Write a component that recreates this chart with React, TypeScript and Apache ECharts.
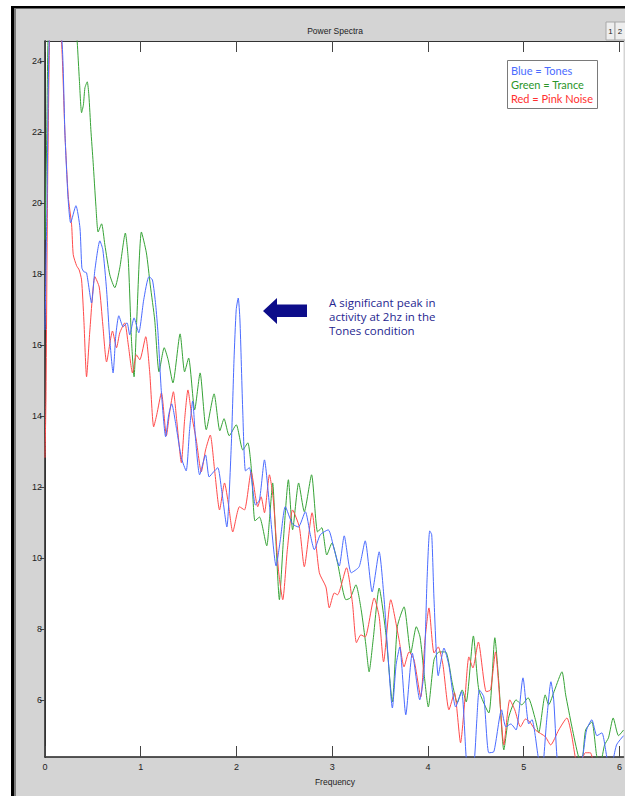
import React, { useEffect, useRef } from "react";
import * as echarts from "echarts";

const xTicks = [0, 1, 2, 3, 4, 5, 6];
const yTicks = [6, 8, 10, 12, 14, 16, 18, 20, 22, 24];
const xMin = 0;
const xMax = 6.042;
const yMin = 4.39;
const yMax = 24.56;

const chartTitle = "Power Spectra";
const xName = "Frequency";
const legendLines = ["Blue = Tones", "Green = Trance", "Red = Pink Noise"];
const noteLines = ["A significant peak in", "activity at 2hz in the", "Tones condition"];

// [frequency, power]
const tones = [
  [0, 16.42], [0.021, 20.08], [0.047, 24.87], [0.104, 25.58], [0.177, 24.56], [0.208, 21.97], [0.24, 20.17], [0.268, 19.44],
  [0.323, 19.92], [0.365, 19.3], [0.385, 18.17], [0.406, 18.06], [0.434, 18.03], [0.486, 17.18], [0.521, 18.11], [0.573, 18.93],
  [0.604, 18.68], [0.643, 17.55], [0.677, 16.14], [0.711, 15.21], [0.74, 16.28], [0.771, 16.82], [0.816, 16.51], [0.857, 16.62],
  [0.885, 16.28], [0.93, 16.76], [0.979, 16.34], [1.031, 17.27], [1.086, 17.92], [1.122, 17.83], [1.156, 17.13], [1.18, 16.34],
  [1.216, 14.65], [1.26, 13.41], [1.292, 14.03], [1.323, 14.34], [1.375, 13.61], [1.424, 12.82], [1.474, 12.45], [1.51, 13.61],
  [1.542, 14.42], [1.573, 13.32], [1.615, 12.34], [1.677, 12.9], [1.714, 12.28], [1.76, 12.42], [1.805, 12.54], [1.844, 11.92],
  [1.899, 10.87], [1.945, 13.13], [1.974, 15.58], [1.997, 16.99], [2.018, 17.32], [2.036, 16.7], [2.066, 14.08], [2.094, 12.45],
  [2.135, 12.54], [2.198, 11.49], [2.24, 11.63], [2.292, 12.76], [2.344, 11.49], [2.414, 9.77], [2.458, 10.51], [2.51, 11.44],
  [2.583, 10.96], [2.646, 10.87], [2.719, 11.3], [2.771, 10.65], [2.813, 10.23], [2.875, 10.65], [2.958, 10.79], [3.021, 10.23],
  [3.073, 9.77], [3.125, 10.62], [3.198, 9.58], [3.281, 9.75], [3.344, 10.48], [3.417, 9.04], [3.49, 10.17], [3.542, 8.82],
  [3.578, 7.41], [3.628, 5.77], [3.667, 6.99], [3.705, 7.49], [3.768, 5.58], [3.836, 7.32], [3.914, 6.0], [3.958, 6.76],
  [3.99, 9.38], [4.018, 10.76], [4.039, 10.65], [4.063, 8.82], [4.107, 6.68], [4.167, 7.46], [4.219, 6.96], [4.289, 5.8],
  [4.351, 6.23], [4.399, 4.37], [4.427, 3.89], [4.479, 4.17], [4.51, 5.44], [4.536, 6.28], [4.583, 6.08], [4.635, 4.51],
  [4.688, 4.54], [4.768, 5.72], [4.813, 5.24], [4.865, 5.32], [4.92, 5.15], [4.992, 6.62], [5.052, 5.32], [5.086, 5.44],
  [5.151, 4.39], [5.188, 3.89], [5.24, 5.44], [5.284, 6.51], [5.313, 6.0], [5.347, 4.39], [5.385, 3.75], [5.552, 3.75],
  [5.615, 4.39], [5.656, 5.15], [5.711, 5.44], [5.764, 4.99], [5.816, 5.07], [5.868, 4.39], [5.906, 4.03], [5.969, 4.73],
  [6.042, 4.99],
];

const trance = [
  [0, 18.96], [0.016, 21.49], [0.031, 24.56], [0.052, 25.44], [0.208, 25.72], [0.3125, 25.15], [0.336, 24.54], [0.359, 23.46],
  [0.382, 22.54], [0.401, 22.76], [0.417, 23.24], [0.441, 23.41], [0.458, 23.04], [0.479, 22.06], [0.503, 21.13], [0.531, 19.94],
  [0.555, 19.18], [0.591, 19.41], [0.625, 18.82], [0.677, 17.97], [0.729, 17.61], [0.781, 18.17], [0.839, 19.15], [0.87, 18.39],
  [0.903, 16.14], [0.93, 15.1], [0.958, 16.7], [1.007, 19.18], [1.059, 18.59], [1.099, 17.69], [1.146, 16.7], [1.191, 15.24],
  [1.245, 15.92], [1.286, 15.58], [1.336, 14.93], [1.411, 16.31], [1.458, 15.24], [1.5, 15.63], [1.563, 14.17], [1.62, 15.21],
  [1.684, 13.61], [1.766, 14.62], [1.826, 13.58], [1.87, 13.92], [1.924, 13.44], [1.997, 13.75], [2.066, 13.04], [2.118, 13.24],
  [2.156, 12.48], [2.193, 11.04], [2.24, 11.15], [2.316, 10.34], [2.344, 11.07], [2.378, 12.11], [2.406, 10.79], [2.448, 8.82],
  [2.49, 10.51], [2.542, 12.2], [2.586, 10.79], [2.649, 12.11], [2.708, 11.3], [2.784, 12.34], [2.847, 10.73], [2.891, 10.85],
  [2.943, 10.08], [2.997, 10.42], [3.055, 9.86], [3.143, 8.82], [3.188, 8.87], [3.247, 9.24], [3.302, 8.54], [3.351, 7.55],
  [3.385, 6.79], [3.427, 7.69], [3.49, 9.15], [3.559, 7.89], [3.628, 5.94], [3.68, 8.06], [3.75, 8.62], [3.82, 7.32],
  [3.878, 8.06], [3.917, 7.77], [3.958, 6.76], [4.003, 5.8], [4.063, 7.13], [4.115, 7.35], [4.184, 7.35], [4.253, 6.48],
  [4.305, 5.92], [4.357, 6.28], [4.399, 5.94], [4.474, 7.8], [4.531, 6.28], [4.635, 5.63], [4.698, 7.75], [4.74, 6.48],
  [4.792, 4.59], [4.844, 5.52], [4.92, 6.0], [4.979, 5.86], [5.045, 6.06], [5.122, 5.44], [5.156, 5.07], [5.224, 6.14],
  [5.26, 5.86], [5.323, 6.28], [5.399, 6.79], [5.438, 6.14], [5.503, 5.24], [5.573, 4.39], [5.608, 4.31], [5.646, 5.15],
  [5.711, 5.38], [5.764, 4.39], [5.802, 4.25], [5.844, 4.73], [5.885, 4.93], [5.934, 5.49], [5.99, 4.99], [6.042, 5.15],
];

const pinkNoise = [
  [0, 12.82], [0.01, 14.45], [0.026, 20.08], [0.047, 24.56], [0.0625, 25.44], [0.115, 25.72], [0.172, 24.56], [0.208, 21.97],
  [0.243, 20.17], [0.278, 19.38], [0.295, 18.54], [0.33, 18.23], [0.357, 18.11], [0.382, 17.83], [0.406, 16.7], [0.434, 15.1],
  [0.469, 16.42], [0.521, 17.92], [0.566, 17.63], [0.604, 16.56], [0.643, 15.52], [0.705, 16.39], [0.747, 15.92], [0.781, 16.34],
  [0.833, 16.62], [0.87, 16.0], [0.914, 15.21], [0.955, 15.72], [0.99, 15.58], [1.052, 16.23], [1.094, 15.21], [1.135, 13.69],
  [1.167, 14.03], [1.216, 14.65], [1.268, 13.44], [1.302, 14.11], [1.341, 14.68], [1.375, 13.89], [1.424, 12.68], [1.458, 13.89],
  [1.493, 14.73], [1.531, 14.03], [1.58, 13.32], [1.632, 12.42], [1.677, 13.04], [1.726, 13.46], [1.771, 12.48], [1.823, 11.35],
  [1.875, 12.11], [1.917, 11.49], [1.961, 10.73], [2.031, 11.44], [2.083, 11.35], [2.153, 12.42], [2.222, 11.44], [2.257, 11.72],
  [2.292, 11.27], [2.344, 12.34], [2.385, 11.63], [2.438, 9.66], [2.483, 8.82], [2.531, 10.23], [2.586, 11.35], [2.656, 10.87],
  [2.708, 9.75], [2.789, 11.27], [2.865, 9.58], [2.934, 9.18], [2.969, 8.59], [3.021, 9.01], [3.055, 8.96], [3.149, 9.72],
  [3.211, 8.73], [3.253, 7.61], [3.299, 7.83], [3.344, 7.77], [3.438, 8.87], [3.49, 8.34], [3.536, 7.07], [3.611, 8.82],
  [3.698, 7.69], [3.75, 6.93], [3.802, 7.35], [3.854, 7.13], [3.924, 6.08], [3.969, 7.69], [4.01, 8.59], [4.063, 7.32],
  [4.107, 7.49], [4.156, 6.99], [4.219, 5.72], [4.276, 6.2], [4.34, 4.79], [4.385, 6.0], [4.427, 7.21], [4.469, 6.9],
  [4.526, 7.63], [4.609, 6.23], [4.653, 6.28], [4.705, 7.35], [4.75, 6.0], [4.792, 4.73], [4.854, 6.0], [4.906, 5.72],
  [4.966, 5.24], [5.018, 5.46], [5.063, 5.38], [5.122, 5.15], [5.226, 4.96], [5.281, 4.73], [5.365, 5.15], [5.451, 5.49],
  [5.5, 5.01], [5.539, 4.37], [5.573, 4.03], [5.643, 4.51], [5.695, 4.51], [5.74, 4.17], [5.885, 3.89], [6.042, 4.03],
];

const BLUE = "#4a6bff";
const GREEN = "#36a336";
const RED = "#ff4a4a";
const NAVY = "#0d0d8a";
const LABEL_FONT = "'Liberation Sans Narrow', 'Liberation Sans', Arial, sans-serif";
const NOTE_FONT = "'Open Sans', Lato, sans-serif";
const LEGEND_FONT = "Lato, 'Open Sans', sans-serif";

export default function App() {
  const ref = useRef<HTMLDivElement>(null);

  useEffect(() => {
    const chart = echarts.init(ref.current!, null, { renderer: "svg" });

    const axisLineDark = { show: true, lineStyle: { color: "#222", width: 1.5 } };
    const axisLineTop = { show: true, lineStyle: { color: "#333", width: 1 } };

    const lineSeries = (name: string, data: number[][], color: string) => ({
      name,
      type: "line",
      data,
      showSymbol: false,
      symbol: "none",
      smooth: 0.2,
      clip: true,
      lineStyle: { color, width: 1 },
      emphasis: { disabled: true },
    });

    chart.setOption({
      animation: false,
      backgroundColor: "#d4d4d4",
      grid: {
        left: 45,
        top: 41,
        right: 0,
        bottom: 39,
        show: true,
        backgroundColor: "#ffffff",
        borderWidth: 0,
      },
      xAxis: [
        {
          type: "value",
          min: xMin,
          max: xMax,
          position: "bottom",
          axisLine: axisLineDark,
          axisTick: { show: true, inside: true, length: 11, customValues: xTicks, lineStyle: { color: "#444" } },
          axisLabel: {
            show: true,
            customValues: xTicks,
            fontSize: 9,
            color: "#222",
            fontFamily: LABEL_FONT,
            margin: 5,
          },
          splitLine: { show: false },
        },
        {
          type: "value",
          min: xMin,
          max: xMax,
          position: "top",
          axisLine: axisLineTop,
          axisTick: { show: true, inside: true, length: 11, customValues: xTicks, lineStyle: { color: "#444" } },
          axisLabel: { show: false },
          splitLine: { show: false },
        },
      ],
      yAxis: [
        {
          type: "value",
          min: yMin,
          max: yMax,
          position: "left",
          axisLine: axisLineDark,
          axisTick: { show: true, inside: false, length: 5, customValues: yTicks, lineStyle: { color: "#444" } },
          axisLabel: {
            show: true,
            customValues: yTicks,
            fontSize: 9,
            color: "#222",
            fontFamily: LABEL_FONT,
            margin: 3,
          },
          splitLine: { show: false },
        },
        {
          type: "value",
          min: yMin,
          max: yMax,
          position: "right",
          axisLine: axisLineTop,
          axisTick: { show: true, inside: true, length: 5, customValues: yTicks, lineStyle: { color: "#444" } },
          axisLabel: { show: false },
          splitLine: { show: false },
        },
      ],
      series: [
        lineSeries("Trance", trance, GREEN),
        lineSeries("Pink Noise", pinkNoise, RED),
        lineSeries("Tones", tones, BLUE),
      ],
      graphic: [
        // outer window frame
        { type: "rect", shape: { x: 0, y: 0, width: 625, height: 6 }, style: { fill: "#ffffff" }, z: 100 },
        { type: "rect", shape: { x: 0, y: 0, width: 11, height: 796 }, style: { fill: "#ffffff" }, z: 100 },
        { type: "rect", shape: { x: 11, y: 6, width: 614, height: 2.5 }, style: { fill: "#000000" }, z: 100 },
        { type: "rect", shape: { x: 11, y: 6, width: 3, height: 790 }, style: { fill: "#000000" }, z: 100 },
        { type: "rect", shape: { x: 14, y: 8.5, width: 2, height: 788 }, style: { fill: "#7a7a7a" }, z: 100 },
        // figure tabs
        { type: "rect", shape: { x: 606, y: 22, width: 9, height: 18 }, style: { fill: "#eeeeee", stroke: "#a8a8a8", lineWidth: 1 }, z: 100 },
        { type: "rect", shape: { x: 615, y: 22, width: 12, height: 18 }, style: { fill: "#eeeeee", stroke: "#a8a8a8", lineWidth: 1 }, z: 100 },
        { type: "text", x: 610.5, y: 31, style: { text: "1", fill: "#222", fontSize: 8, fontFamily: LABEL_FONT, textAlign: "center", textVerticalAlign: "middle" }, z: 101 },
        { type: "text", x: 620, y: 31, style: { text: "2", fill: "#222", fontSize: 8, fontFamily: LABEL_FONT, textAlign: "center", textVerticalAlign: "middle" }, z: 101 },
        // title and x label
        { type: "text", x: 335, y: 31, style: { text: chartTitle, fill: "#222", fontSize: 8.5, fontFamily: LABEL_FONT, textAlign: "center", textVerticalAlign: "middle" }, z: 101 },
        { type: "text", x: 335, y: 782, style: { text: xName, fill: "#222", fontSize: 8.5, fontFamily: LABEL_FONT, textAlign: "center", textVerticalAlign: "middle" }, z: 101 },
        // legend box
        { type: "rect", shape: { x: 507.5, y: 60.5, width: 90, height: 48 }, style: { fill: "#ffffff", stroke: "#7a7a7a", lineWidth: 1 }, z: 100 },
        { type: "text", x: 511, y: 70.5, style: { text: legendLines[0], fill: BLUE, fontSize: 11, fontFamily: LEGEND_FONT, textVerticalAlign: "middle" }, z: 101 },
        { type: "text", x: 511, y: 84.5, style: { text: legendLines[1], fill: "#2a962a", fontSize: 11, fontFamily: LEGEND_FONT, textVerticalAlign: "middle" }, z: 101 },
        { type: "text", x: 511, y: 98.5, style: { text: legendLines[2], fill: "#ff2f2f", fontSize: 11, fontFamily: LEGEND_FONT, textVerticalAlign: "middle" }, z: 101 },
        // annotation arrow
        {
          type: "polygon",
          shape: { points: [[263, 311], [277, 298], [277, 304.5], [307, 304.5], [307, 317], [277, 317], [277, 324]] },
          style: { fill: NAVY },
          z: 100,
        },
        { type: "text", x: 329, y: 302, style: { text: noteLines[0], fill: "#26268f", fontSize: 11.5, fontFamily: NOTE_FONT, textVerticalAlign: "middle" }, z: 101 },
        { type: "text", x: 329, y: 316, style: { text: noteLines[1], fill: "#26268f", fontSize: 11.5, fontFamily: NOTE_FONT, textVerticalAlign: "middle" }, z: 101 },
        { type: "text", x: 329, y: 330, style: { text: noteLines[2], fill: "#26268f", fontSize: 11.5, fontFamily: NOTE_FONT, textVerticalAlign: "middle" }, z: 101 },
      ],
    });

    return () => chart.dispose();
  }, []);

  return <div ref={ref} style={{ position: "fixed", left: 0, top: 0, width: 625, height: 796 }} />;
}
